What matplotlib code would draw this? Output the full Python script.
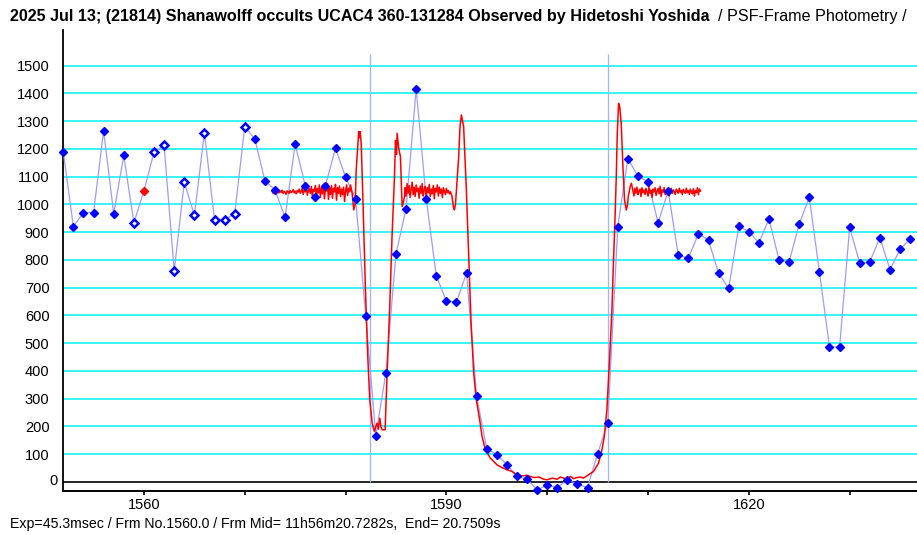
import matplotlib
matplotlib.use('Agg')
import matplotlib.pyplot as plt
import matplotlib.transforms as mtransforms
import numpy as np

plt.rcParams['font.family'] = ['Liberation Sans', 'DejaVu Sans']

# frame-by-frame photometry (one point per frame)
first_frame = 1552
flux = [1188, 920, 970, 970, 1265, 966, 1176, 933, 1049, 1188,
        1212, 760, 1080, 961, 1258, 944, 944, 966, 1280, 1235,
        1085, 1052, 953, 1217, 1067, 1028, 1067, 1202, 1098, 1020,
        598, 166, 394, 822, 984, 1416, 1020, 742, 652, 648,
        753, 308, 120, 99, 62, 20, 10, -28, -12, -20,
        8, -8, -20, 102, 212, 920, 1165, 1101, 1082, 933,
        1049, 816, 806, 894, 871, 752, 697, 921, 902, 861,
        948, 798, 793, 930, 1025, 757, 486, 486, 917, 789,
        793, 880, 765, 838, 876]
hollow_frames = [1559, 1561, 1562, 1563, 1564, 1565, 1566, 1567, 1568, 1569, 1570]
current_frame = 1560

# model light curve (red)
seg_step = 0.1
segA_start = 1572.7
segA = [1048, 1040, 1052, 1044, 1038, 1050, 1046, 1041, 1049, 1043,
        1051, 1039, 1047, 1044, 1036, 1049, 1045, 1040, 1050, 1042,
        1046, 1053, 1041, 1048, 1038, 1050, 1044, 1055, 1040, 1047,
        1058, 1036, 1052, 1045, 1062, 1033, 1049, 1056, 1040, 1065,
        1030, 1054, 1047, 1068, 1028, 1058, 1042, 1070, 1025, 1060,
        1038, 1072, 1020, 1055, 1048, 1075, 1018, 1062, 1035, 1068,
        1022, 1058, 1045, 1072, 1015, 1060, 1040, 1066, 1028, 1055,
        1035, 1062, 1010, 1048, 1070, 1032, 1058, 1045]
segB_f = [1580.49, 1580.65, 1580.81, 1580.95, 1581.05, 1581.21, 1581.30, 1581.38,
          1581.45, 1581.55, 1581.74, 1581.97, 1582.20, 1582.40, 1582.64, 1582.86,
          1583.00, 1583.13, 1583.25, 1583.39, 1583.50, 1583.63, 1583.92, 1584.12,
          1584.38, 1584.62, 1584.85, 1584.95, 1585.05, 1585.11, 1585.27, 1585.44,
          1585.61, 1585.75, 1585.85]
segB_v = [1070, 1040, 980, 1000, 1120, 1214, 1262, 1240,
          1262, 1220, 992, 692, 452, 296, 212, 182,
          200, 212, 190, 230, 200, 188, 188, 392,
          632, 896, 1100, 1230, 1180, 1256, 1202, 1172,
          992, 1010, 1030]
segC_start = 1585.9
segC = [1060, 1030, 1075, 1040, 1068, 1025, 1055, 1080, 1035, 1062,
        1028, 1070, 1045, 1058, 1022, 1066, 1040, 1075, 1030, 1052,
        1065, 1025, 1060, 1042, 1072, 1028, 1055, 1038, 1068, 1020,
        1058, 1045, 1070, 1030, 1062, 1040, 1055, 1025, 1060, 1048,
        1035, 1058, 1042, 1050, 1038, 1045]
segD_f = [1590.55, 1590.70, 1590.79, 1590.90, 1591.05, 1591.22, 1591.35, 1591.49,
          1591.60, 1591.71, 1591.98, 1592.21, 1592.45, 1592.71, 1592.97, 1593.30,
          1593.54, 1593.87, 1594.36, 1595.02, 1595.50, 1596.02, 1596.50, 1597.01,
          1597.50, 1598.00, 1598.33, 1598.70, 1599.20, 1599.64, 1600.00, 1600.50,
          1601.00, 1601.30, 1601.63, 1602.00, 1602.30, 1602.60, 1602.95, 1603.30,
          1603.60, 1603.94, 1604.60, 1605.09, 1605.43, 1605.66, 1605.92, 1606.18,
          1606.42, 1606.58, 1606.72, 1606.85, 1606.95, 1607.08, 1607.20, 1607.34,
          1607.51, 1607.67, 1607.84, 1607.95, 1608.05, 1608.23, 1608.35]
segD_v = [1030, 990, 980, 1000, 1080, 1172, 1280, 1322,
          1300, 1280, 1052, 812, 572, 392, 296, 224,
          164, 116, 86, 62, 52, 44, 38, 26,
          22, 24, 20, 16, 18, 10, 8, 14,
          10, 18, 14, 12, 20, 12, 16, 18,
          14, 22, 38, 68, 116, 164, 260, 440,
          620, 800, 944, 1100, 1256, 1364, 1350, 1292,
          1136, 1016, 980, 995, 1030, 1064, 1076]
segE_start = 1608.5
segE = [1050, 1030, 1058, 1040, 1062, 1035, 1048, 1055, 1028, 1060,
        1042, 1052, 1035, 1058, 1045, 1030, 1062, 1040, 1050, 1025,
        1055, 1045, 1060, 1032, 1048, 1058, 1038, 1065, 1028, 1052,
        1044, 1060, 1035, 1050, 1042, 1056, 1030, 1048, 1058, 1040,
        1052, 1045, 1036, 1055, 1048, 1040, 1058, 1044, 1050, 1035,
        1054, 1046, 1040, 1058, 1042, 1050, 1036, 1055, 1045, 1038,
        1056, 1030, 1050, 1042, 1060, 1035, 1055, 1048]

event_lines = [1582.4, 1606.0]
x_ticks = [1560, 1570, 1580, 1590, 1600, 1610, 1620, 1630]
x_labels = ['1560', '', '', '1590', '', '', '1620', '']
y_ticks = list(range(0, 1600, 100))

title_bold = '2025 Jul 13; (21814) Shanawolff occults UCAC4 360-131284 Observed by Hidetoshi Yoshida'
title_rest = '/ PSF-Frame Photometry /'
footer = 'Exp=45.3msec / Frm No.1560.0 / Frm Mid= 11h56m20.7282s,  End= 20.7509s'

# ---- build arrays
frames = first_frame + np.arange(len(flux))
flux = np.array(flux)
red_f = np.concatenate([segA_start + seg_step * np.arange(len(segA)), segB_f,
                        segC_start + seg_step * np.arange(len(segC)), segD_f,
                        segE_start + seg_step * np.arange(len(segE))])
red_v = np.concatenate([segA, segB_v, segC, segD_v, segE])

W, H = 917, 535
fig = plt.figure(figsize=(W / 100, H / 100), dpi=100)
ax = fig.add_axes([63.3 / W, 1 - 491 / H, 1 - 63.3 / W, (491 - 30) / H])

ax.set_xlim(1552, 1636.68)
ax.set_ylim(-32.4, 1628)

for yv in y_ticks[1:]:
    ax.axhline(yv, color='#38f4f4', lw=1.4, zorder=1)
ax.axhline(0, color='black', lw=1.2, zorder=2)
ax.vlines(event_lines, 0, 1540, color='#9fb4ff', lw=0.9, zorder=2)

ax.plot(frames, flux, color='#9c9cff', lw=0.9, zorder=3)
ax.plot(red_f, red_v, color='#ff0000', lw=1.1, zorder=4)

is_hollow = np.isin(frames, hollow_frames)
is_current = frames == current_frame
filled = ~is_hollow & ~is_current
ax.plot(frames[filled], flux[filled], ls='none', marker='D', ms=4.2,
        color='#0000ff', mec='#0000ff', mew=1, zorder=5, clip_on=False)
ax.plot(frames[is_hollow], flux[is_hollow], ls='none', marker='D', ms=4.2,
        mfc='white', mec='#0000ff', mew=1.8, zorder=5, clip_on=False)
ax.plot(frames[is_current], flux[is_current], ls='none', marker='D', ms=4.2,
        color='#ff0000', mec='#ff0000', mew=1, zorder=5, clip_on=False)

for s in ['top', 'right']:
    ax.spines[s].set_visible(False)
ax.spines['left'].set_linewidth(1.3)
ax.spines['bottom'].set_linewidth(1.4)

ax.set_xticks(x_ticks)
ax.set_xticklabels(x_labels)
ax.tick_params(axis='x', direction='out', length=3, width=1.2, pad=2, labelsize=10.5)
ax.set_yticks(y_ticks)
ax.set_yticklabels([str(v) for v in y_ticks])
ax.tick_params(axis='y', length=0, pad=10, labelsize=10.5)
zero_lab = ax.get_yticklabels()[0]
zero_lab.set_transform(zero_lab.get_transform() +
                       mtransforms.ScaledTranslation(8 / 100, 3 / 100, fig.dpi_scale_trans))

fig.text(10 / W, 1 - 17 / H, title_bold, fontsize=11.6, fontweight='bold',
         va='center', ha='left')
fig.text(718 / W, 1 - 17 / H, title_rest, fontsize=11.6,
         va='center', ha='left')
fig.text(10 / W, 1 - 524 / H, footer, fontsize=10.2, va='center', ha='left')

fig.savefig('out.png', dpi=100)
